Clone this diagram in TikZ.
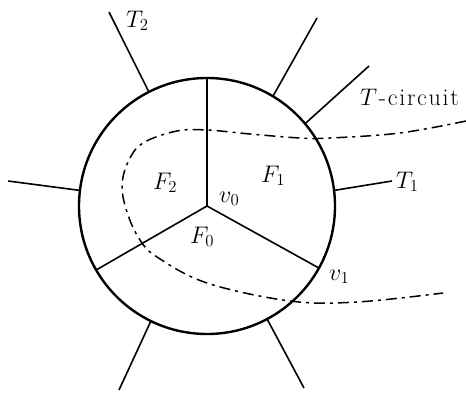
\RequirePackage{fix-cm}
\documentclass[tikz,border=0pt]{standalone}
\usepackage{fontspec}
\newcommand{\spc}{\kern1.7pt}
\begin{document}
\begin{tikzpicture}[x=1pt,y=-1pt,
  rim/.style={line width=2.4pt},
  edgeline/.style={line width=1.6pt},
  tcirc/.style={line width=1.5pt, dash pattern=on 11pt off 5pt on 3pt off 5pt},
  lbl/.style={inner sep=0pt, anchor=base west, font=\fontsize{24}{28}\selectfont}]
\useasboundingbox (0,0) rectangle (466,394);
% circle
\node[circle, draw, rim, minimum size=256pt, inner sep=0pt, outer sep=0pt] (c) at (207,206) {};
\coordinate (v0) at (207,206);
% spokes
\draw[edgeline] (v0) -- (c.90);
\draw[edgeline] (v0) -- (c.210);
\draw[edgeline] (v0) -- (c.331);
% outer edges
\coordinate (oT2) at (109,12);
\coordinate (oUR) at (317,18);
\coordinate (oTC) at (369,66);
\coordinate (oT1) at (392,181);
\coordinate (oL) at (8,181);
\coordinate (oLL) at (119,390);
\coordinate (oLR) at (304,388);
\draw[edgeline] (c.117) -- (oT2);
\draw[edgeline] (c.59) -- (oUR);
\draw[edgeline] (c.40.6) -- (oTC);
\draw[edgeline] (c.7.6) -- (oT1);
\draw[edgeline] (c.173.7) -- (oL);
\draw[edgeline] (c.244.8) -- (oLL);
\draw[edgeline] (c.298) -- (oLR);
% T-circuit dashed curve
\draw[tcirc] plot[smooth, tension=0.6] coordinates {
 (466,121) (400,133) (330,138) (300,138) (250,134) (207,130) (177,131)
 (143,143) (128,162) (122,187) (128,215) (140,240) (157,257) (207,283)
 (290,301) (357,302) (443,293)};
% labels
\node[lbl] (lT2) at (126,27) {$T_2$};
\node[lbl] (lTC) at (360,105) {$T$\spc-\spc c\spc i\spc r\spc c\spc u\spc i\spc t};
\node[lbl] (lT1) at (396,188) {$T_1$};
\node[lbl] (lF2) at (153,189) {$F_2$};
\node[lbl] (lF1) at (261,182) {$F_1$};
\node[lbl] (lv0) at (219,202) {$v_0$};
\node[lbl] (lF0) at (190,243) {$F_0$};
\node[lbl] (lv1) at (329,280) {$v_1$};
\end{tikzpicture}
\end{document}
